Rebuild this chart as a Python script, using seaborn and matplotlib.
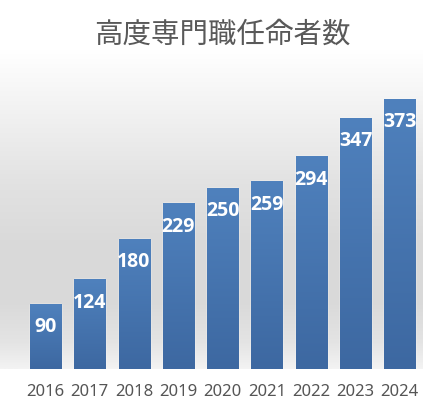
import numpy as np
import pandas as pd
import matplotlib
matplotlib.use("Agg")
import matplotlib.pyplot as plt
import seaborn as sns
from matplotlib.colors import LinearSegmentedColormap

years = ["2016", "2017", "2018", "2019", "2020", "2021", "2022", "2023", "2024"]
values = [90, 124, 180, 229, 250, 259, 294, 347, 373]
title = "高度専門職任命者数"

sns.set_theme(style="white")
plt.rcParams['font.family'] = ['Noto Sans', 'Noto Sans CJK JP', 'DejaVu Sans']

W, H = 445, 417
fig = plt.figure(figsize=(W / 100, H / 100), dpi=100)
fig.patch.set_facecolor("white")

# background gradient panel
bg = fig.add_axes([0, (H - 369) / H, 423 / W, (369 - 50) / H], zorder=0)
bg.axis("off")
stops = [(0.0, "#ffffff"), (0.16, "#f4f4f4"), (0.42, "#e2e2e2"),
         (0.62, "#d9d9d9"), (0.8, "#dadada"), (0.92, "#e4e4e4"), (1.0, "#f3f3f3")]
bg_cmap = LinearSegmentedColormap.from_list("bg", stops)
grad = np.linspace(0, 1, 256).reshape(-1, 1)
bg.imshow(grad, aspect="auto", cmap=bg_cmap, extent=[0, 1, 0, 1], origin="upper")
bg.set_xlim(0, 1)
bg.set_ylim(0, 1)

ax = fig.add_axes([23.3 / W, (H - 369) / H, (422 - 23.3) / W, (369 - 79.4) / H], zorder=1)
ax.patch.set_alpha(0)

df = pd.DataFrame({"year": years, "value": values})
sns.barplot(data=df, x="year", y="value", color="#4a7ab8", width=0.7,
            saturation=1, ax=ax, zorder=2)
ax.set_ylim(0, 400)
ax.set_xlim(-0.5, len(years) - 0.5)

bar_cmap = LinearSegmentedColormap.from_list("bar", ["#3d68a1", "#4f81bd"])
for p in ax.patches:
    x0, y0 = p.get_x(), p.get_y()
    w, h = p.get_width(), p.get_height()
    im = ax.imshow(np.linspace(0, 1, 128).reshape(-1, 1), aspect="auto", cmap=bar_cmap,
                   extent=[x0, x0 + w, y0, y0 + h], origin="lower", zorder=3)
    im.set_clip_path(p)
    ax.annotate(f"{int(round(h))}", (x0 + w / 2, h), xytext=(0, -16.9),
                textcoords="offset points", ha="center", va="center",
                color="white", fontsize=14, fontweight="bold", zorder=4,
                family=["Open Sans", "DejaVu Sans"])

ax.set_xlim(-0.5, len(years) - 0.5)
ax.set_ylim(0, 400)
ax.set_xlabel("")
ax.set_ylabel("")
ax.set_yticks([])
for s in ax.spines.values():
    s.set_visible(False)
ax.tick_params(axis="x", length=0, pad=10.5, labelsize=12, labelcolor="#555555")

fig.text(0.5, 1 - 35 / H, title, ha="center", va="center", fontsize=20.5,
         color="#595959", family=["Noto Sans CJK JP", "DejaVu Sans"])

fig.savefig("out.png", dpi=100)
